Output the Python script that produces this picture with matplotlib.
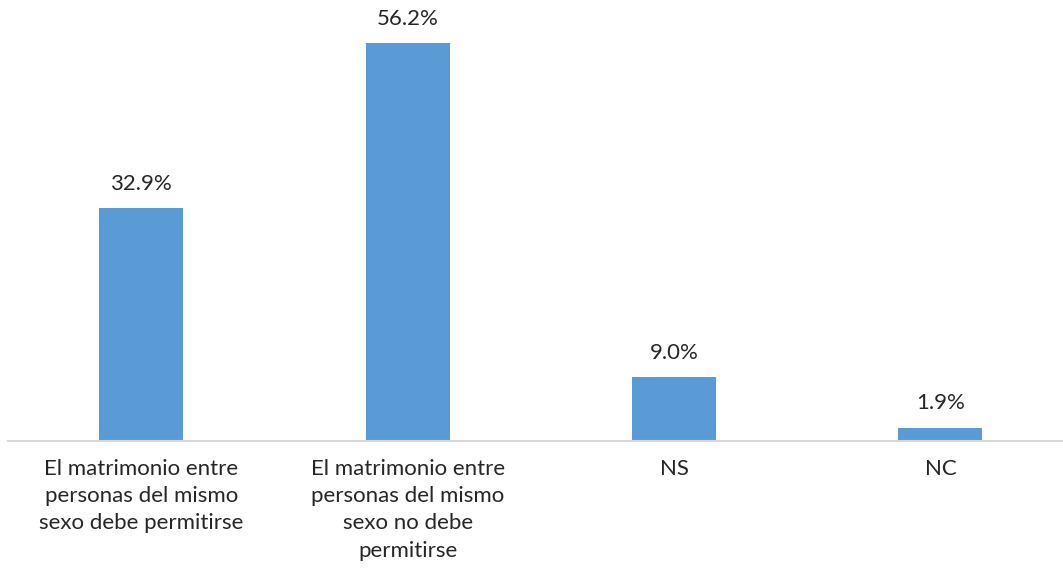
import matplotlib
matplotlib.use("Agg")
import matplotlib.pyplot as plt

categories = ["El matrimonio entre\npersonas del mismo\nsexo debe permitirse",
              "El matrimonio entre\npersonas del mismo\nsexo no debe\npermitirse",
              "NS",
              "NC"]
values = [32.9, 56.2, 9.0, 1.9]
labels = ["32.9%", "56.2%", "9.0%", "1.9%"]

plt.rcParams['font.family'] = ['Lato', 'DejaVu Sans']
text_color = "#262626"

fig = plt.figure(figsize=(10.63, 5.71), dpi=100)
ax = fig.add_axes([8 / 1063, 130 / 571, 1055 / 1063, 441 / 571])

x = range(len(categories))
bars = ax.bar(x, values, width=0.315, color="#5B9BD5")

# value labels above bars
for xi, v, lab in zip(x, values, labels):
    ax.text(xi, v + 2.0, lab, ha="center", va="bottom", fontsize=16, color=text_color)

ax.set_xlim(-0.5, 3.46)
ax.set_ylim(0, 62.3)
ax.set_xticks(list(x))
ax.set_xticklabels(categories, fontsize=16, color=text_color, linespacing=1.45)
ax.tick_params(axis="x", length=0, pad=13)
ax.set_yticks([])
for side in ["top", "right", "left"]:
    ax.spines[side].set_visible(False)
ax.spines["bottom"].set_color("#D9D9D9")
ax.spines["bottom"].set_linewidth(1.5)

fig.savefig("out.png", dpi=100)
